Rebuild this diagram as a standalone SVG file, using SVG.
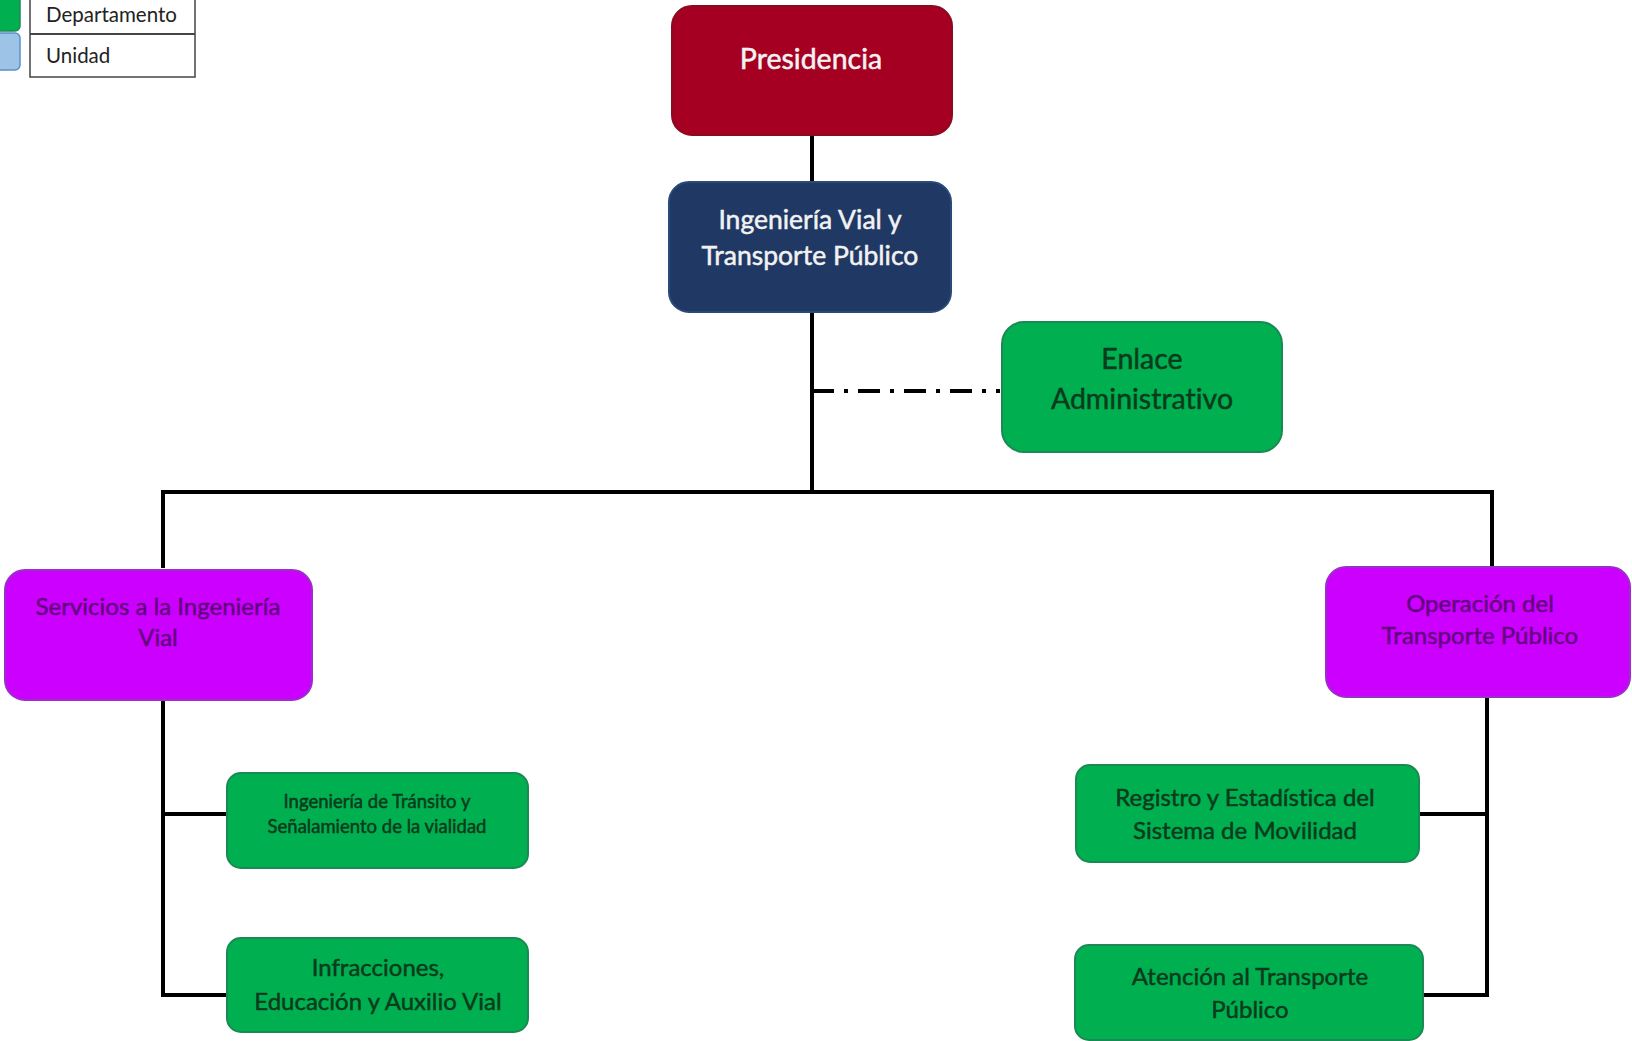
<svg xmlns="http://www.w3.org/2000/svg" width="1632" height="1041" viewBox="0 0 1632 1041">
<style>
text{font-family:Lato,"Liberation Sans",sans-serif;text-anchor:middle;font-variant-ligatures:none;stroke-width:0.5}
.red{fill:#A50021;stroke:#8a0a22;stroke-width:2}
.navy{fill:#1F3864;stroke:#2a4a7a;stroke-width:2}
.green{fill:#00B050;stroke:#1a8a55;stroke-width:2}
.purple{fill:#CC00FF;stroke:#9a30c8;stroke-width:2}
.tw{fill:#f2f2f2;stroke:#f2f2f2}
.tg{fill:#0b3b1c;stroke:#0b3b1c}
.tp{fill:#640080;stroke:#640080}
.ln{stroke:#000;stroke-width:4;fill:none}
.leg{font-size:20.5px;fill:#222;text-anchor:start;stroke:none}
</style>
<g id="legend">
<rect x="-10" y="-10" width="30" height="41" rx="5" fill="#00B050" stroke="#1a8a55" stroke-width="1.5"/>
<rect x="-10" y="33" width="30" height="37" rx="5" fill="#9DC3E6" stroke="#5b8fc7" stroke-width="1.5"/>
<rect x="30" y="-2" width="165" height="79" fill="#fff" stroke="#444" stroke-width="1.5"/>
<line x1="30" y1="34" x2="195" y2="34" stroke="#444" stroke-width="2"/>
<text class="leg" x="46" y="22">Departamento</text>
<text class="leg" x="46" y="63">Unidad</text>
</g>
<g id="connectors">
<line class="ln" x1="812" y1="135" x2="812" y2="182"/>
<line class="ln" x1="812" y1="312" x2="812" y2="494"/>
<line class="ln" x1="161" y1="492" x2="1494" y2="492"/>
<line class="ln" x1="163" y1="490" x2="163" y2="568"/>
<line class="ln" x1="1492" y1="490" x2="1492" y2="567"/>
<path class="ln" d="M812 391 H1000" stroke-dasharray="22 10 4 10"/>
<path class="ln" d="M163 700 V995 H227"/>
<line class="ln" x1="163" y1="814" x2="227" y2="814"/>
<path class="ln" d="M1487 697 V995 H1424"/>
<line class="ln" x1="1420" y1="814" x2="1487" y2="814"/>
</g>
<g id="presidencia">
<rect class="red" x="672" y="6" width="280" height="129" rx="20"/>
<text class="tw" x="811" y="69" font-size="28.5">Presidencia</text>
</g>
<g id="ingenieria">
<rect class="navy" x="669" y="182" width="282" height="130" rx="20"/>
<text class="tw" x="810" y="229" font-size="26.5">Ingeniería Vial y</text>
<text class="tw" x="810" y="265" font-size="26.5">Transporte Público</text>
</g>
<g id="enlace">
<rect class="green" x="1002" y="322" width="280" height="130" rx="22"/>
<text class="tg" x="1142" y="369" font-size="28.5">Enlace</text>
<text class="tg" x="1142" y="409" font-size="28.5">Administrativo</text>
</g>
<g id="servicios">
<rect class="purple" x="5" y="570" width="307" height="130" rx="20"/>
<text class="tp" x="158" y="615" font-size="24">Servicios a la Ingeniería</text>
<text class="tp" x="158" y="646" font-size="24">Vial</text>
</g>
<g id="operacion">
<rect class="purple" x="1326" y="567" width="304" height="130" rx="20"/>
<text class="tp" x="1480" y="612" font-size="24">Operación del</text>
<text class="tp" x="1480" y="644" font-size="24">Transporte Público</text>
</g>
<g id="transito">
<rect class="green" x="227" y="773" width="301" height="95" rx="14"/>
<text class="tg" x="377" y="808" font-size="18.5">Ingeniería de Tránsito y</text>
<text class="tg" x="377" y="833" font-size="18.5">Señalamiento de la vialidad</text>
</g>
<g id="infracciones">
<rect class="green" x="227" y="938" width="301" height="94" rx="14"/>
<text class="tg" x="378" y="976" font-size="24">Infracciones,</text>
<text class="tg" x="378" y="1010" font-size="24">Educación y Auxilio Vial</text>
</g>
<g id="registro">
<rect class="green" x="1076" y="765" width="343" height="97" rx="14"/>
<text class="tg" x="1245" y="806" font-size="24">Registro y Estadística del</text>
<text class="tg" x="1245" y="839" font-size="24">Sistema de Movilidad</text>
</g>
<g id="atencion">
<rect class="green" x="1075" y="945" width="348" height="95" rx="14"/>
<text class="tg" x="1250" y="985" font-size="24">Atención al Transporte</text>
<text class="tg" x="1250" y="1018" font-size="24">Público</text>
</g>
</svg>
